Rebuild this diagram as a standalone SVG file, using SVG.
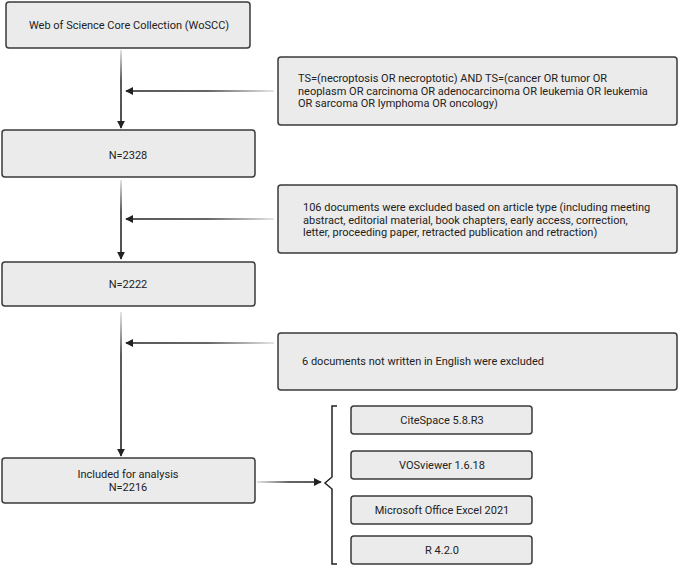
<svg xmlns="http://www.w3.org/2000/svg" width="679" height="567" viewBox="0 0 679 567">
<style>
.box{fill:#ebebeb;stroke:#3a3a3a;stroke-width:1.5}
.t{font-family:Roboto,"Liberation Sans",sans-serif;font-size:11px;fill:#222}
.c{text-anchor:middle}
.ln{fill:none;stroke-width:1.6}
</style>
<defs>
<marker id="ah" viewBox="0 0 10 10" refX="9" refY="5" markerWidth="8" markerHeight="8" markerUnits="userSpaceOnUse" orient="auto">
<path d="M0,0 L10,5 L0,10 Z" fill="#222"/>
</marker>
<linearGradient id="gv1" gradientUnits="userSpaceOnUse" x1="0" y1="50" x2="0" y2="127"><stop offset="0" stop-color="#ddd"/><stop offset="0.4" stop-color="#333"/><stop offset="1" stop-color="#222"/></linearGradient>
<linearGradient id="gv2" gradientUnits="userSpaceOnUse" x1="0" y1="180" x2="0" y2="258"><stop offset="0" stop-color="#ddd"/><stop offset="0.4" stop-color="#333"/><stop offset="1" stop-color="#222"/></linearGradient>
<linearGradient id="gv3" gradientUnits="userSpaceOnUse" x1="0" y1="312" x2="0" y2="455"><stop offset="0" stop-color="#ddd"/><stop offset="0.3" stop-color="#333"/><stop offset="1" stop-color="#222"/></linearGradient>
<linearGradient id="gh" gradientUnits="userSpaceOnUse" x1="274" y1="0" x2="127" y2="0"><stop offset="0" stop-color="#ddd"/><stop offset="0.45" stop-color="#333"/><stop offset="1" stop-color="#222"/></linearGradient>
<linearGradient id="gh2" gradientUnits="userSpaceOnUse" x1="257" y1="0" x2="320" y2="0"><stop offset="0" stop-color="#ddd"/><stop offset="0.5" stop-color="#333"/><stop offset="1" stop-color="#222"/></linearGradient>
</defs>
<g id="connectors">
<line class="ln" x1="121" y1="50" x2="121" y2="128" stroke="url(#gv1)" marker-end="url(#ah)"/>
<line class="ln" x1="274" y1="91" x2="126" y2="91" stroke="url(#gh)" marker-end="url(#ah)"/>
<line class="ln" x1="121" y1="180" x2="121" y2="259" stroke="url(#gv2)" marker-end="url(#ah)"/>
<line class="ln" x1="274" y1="219" x2="126" y2="219" stroke="url(#gh)" marker-end="url(#ah)"/>
<line class="ln" x1="121" y1="312" x2="121" y2="456" stroke="url(#gv3)" marker-end="url(#ah)"/>
<line class="ln" x1="274" y1="343" x2="126" y2="343" stroke="url(#gh)" marker-end="url(#ah)"/>
<line class="ln" x1="257" y1="482" x2="321" y2="482" stroke="url(#gh2)" marker-end="url(#ah)"/>
<path d="M337,406 L332,406 L332,477 L325,483 L332,489 L332,564 L337,564" fill="none" stroke="#222" stroke-width="1.5"/>
</g>
<g id="n1"><rect class="box" x="6" y="2" width="244" height="46" rx="3"/><text class="t c" x="129" y="29">Web of Science Core Collection (WoSCC)</text></g>
<g id="e1"><rect class="box" x="278" y="57" width="399" height="68" rx="3"/>
<text class="t" x="298" y="82">TS=(necroptosis OR necroptotic) AND TS=(cancer OR tumor OR</text>
<text class="t" x="298" y="94.5">neoplasm OR carcinoma OR adenocarcinoma OR leukemia OR leukemia</text>
<text class="t" x="298" y="107">OR sarcoma OR lymphoma OR oncology)</text></g>
<g id="n2"><rect class="box" x="2" y="130" width="253" height="47" rx="3"/><text class="t c" x="128" y="159">N=2328</text></g>
<g id="e2"><rect class="box" x="278" y="185" width="399" height="68" rx="3"/>
<text class="t" x="303" y="211">106 documents were excluded based on article type (including meeting</text>
<text class="t" x="303" y="223.5">abstract, editorial material, book chapters, early access, correction,</text>
<text class="t" x="303" y="236">letter, proceeding paper, retracted publication and retraction)</text></g>
<g id="n3"><rect class="box" x="2" y="262" width="253" height="44" rx="3"/><text class="t c" x="128" y="288">N=2222</text></g>
<g id="e3"><rect class="box" x="278" y="333" width="399" height="57" rx="3"/>
<text class="t" x="302" y="365">6 documents not written in English were excluded</text></g>
<g id="n4"><rect class="box" x="2" y="458" width="253" height="45" rx="3"/>
<text class="t c" x="128" y="478">Included for analysis</text>
<text class="t c" x="128" y="491">N=2216</text></g>
<g id="s1"><rect class="box" x="351" y="406" width="181" height="28" rx="3"/><text class="t c" x="442" y="424">CiteSpace 5.8.R3</text></g>
<g id="s2"><rect class="box" x="351" y="451" width="181" height="28" rx="3"/><text class="t c" x="442" y="469">VOSviewer 1.6.18</text></g>
<g id="s3"><rect class="box" x="351" y="496" width="181" height="28" rx="3"/><text class="t c" x="442" y="514">Microsoft Office Excel 2021</text></g>
<g id="s4"><rect class="box" x="351" y="536" width="181" height="28" rx="3"/><text class="t c" x="442" y="554">R 4.2.0</text></g>
</svg>
